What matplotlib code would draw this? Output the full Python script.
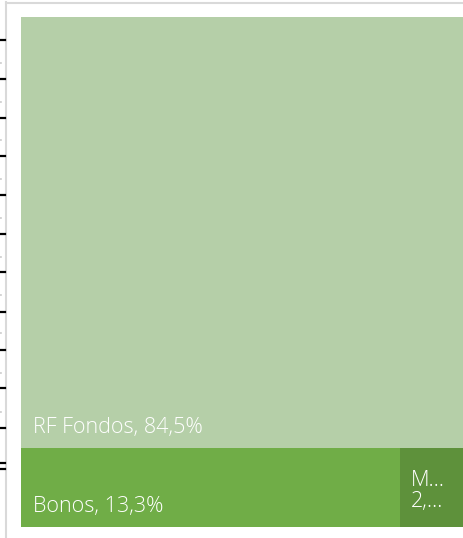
import matplotlib
matplotlib.use("Agg")
import matplotlib.pyplot as plt
from matplotlib.lines import Line2D

plt.rcParams["font.family"] = ["Open Sans", "DejaVu Sans"]

# treemap data (percent of portfolio)
top_label = "RF Fondos"
top_value = 84.5
row_labels = ["Bonos", "M…"]
row_values = [13.3, 2.2]
row_texts = ["Bonos, 13,3%", "M…\n2,…"]
top_text = "RF Fondos, 84,5%"

colors = {"RF Fondos": "#b5cfa8", "Bonos": "#70ad47", "M…": "#5e913b"}

# clipped tick marks of the neighbouring chart at the left edge (pixel rows)
left_ticks = [40, 79, 118, 156, 195, 234, 272, 312, 350, 388, 428, 463, 469]
left_dots = [63, 102, 140, 179, 218, 257, 295, 333, 373, 412]

W, H = 464, 538
fig = plt.figure(figsize=(W / 100, H / 100), dpi=100)
fig.patch.set_facecolor("white")

# light frame of the chart area
fig.add_artist(Line2D([6 / W, 6 / W], [0, 1 - 2 / H], color="#d9d9d9", lw=1.5))
fig.add_artist(Line2D([6 / W, 1], [1 - 2.5 / H, 1 - 2.5 / H], color="#d9d9d9", lw=1.5))
for y in left_ticks:
    fig.add_artist(Line2D([0, 5 / W], [1 - y / H, 1 - y / H], color="black", lw=1.6))
for y in left_dots:
    fig.add_artist(Line2D([0, 1.5 / W], [1 - y / H, 1 - y / H], color="#cccccc", lw=1.2))

ax = fig.add_axes([21 / W, 11 / H, 442 / W, 510 / H])
ax.set_xlim(0, 1)
ax.set_ylim(0, 1)
ax.axis("off")

total = top_value + sum(row_values)
top_h = top_value / total
row_h = 1 - top_h

txt_kw = dict(color="white", fontsize=15.5, fontweight="light", textcoords="offset points")

# top block spans the full width
ax.bar(0, top_h, width=1, bottom=row_h, align="edge",
       color=colors[top_label], edgecolor="none")
ax.annotate(top_text, xy=(0, row_h), xytext=(8.5, 11), ha="left", va="baseline", **txt_kw)

# bottom row split by value
x0 = 0
row_sum = sum(row_values)
for lab, val, txt in zip(row_labels, row_values, row_texts):
    w = val / row_sum
    ax.bar(x0, row_h, width=w, bottom=0, align="edge",
           color=colors[lab], edgecolor="none")
    if "\n" in txt:
        ax.annotate(txt, xy=(x0, row_h), xytext=(7.5, -16), ha="left", va="top",
                    linespacing=1.0, **txt_kw)
    else:
        ax.annotate(txt, xy=(x0, 0), xytext=(8.5, 11), ha="left", va="baseline", **txt_kw)
    x0 += w

fig.savefig("out.png", dpi=100)
